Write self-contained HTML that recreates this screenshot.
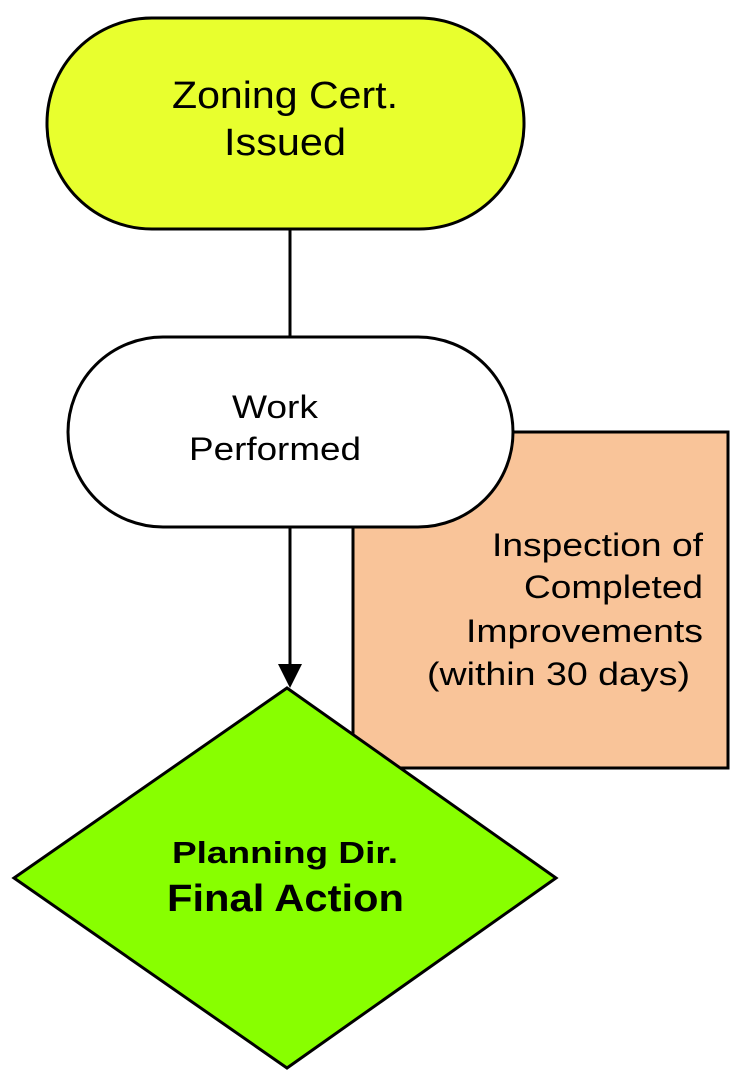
<!DOCTYPE html>
<html><head><meta charset="utf-8"><style>html,body{margin:0;padding:0;background:#fff}svg{display:block}</style></head>
<body>
<svg width="741" height="1079" viewBox="0 0 741 1079" xmlns="http://www.w3.org/2000/svg" font-family="Liberation Sans, Arial, sans-serif">
<rect x="353" y="432" width="375" height="336" fill="#f9c499" stroke="#000" stroke-width="3"/>
<line x1="290" y1="229" x2="290" y2="337" stroke="#000" stroke-width="3"/>
<rect x="47" y="18" width="477" height="211" rx="105" ry="105" fill="#e8ff2e" stroke="#000" stroke-width="3"/>
<text x="172" y="108" font-size="38" textLength="226" lengthAdjust="spacingAndGlyphs">Zoning Cert.</text>
<text x="224" y="155" font-size="38" textLength="122" lengthAdjust="spacingAndGlyphs">Issued</text>
<line x1="290" y1="527" x2="290" y2="666" stroke="#000" stroke-width="3"/>
<polygon points="278,664 302,664 290,688" fill="#000"/>
<rect x="68" y="337" width="445" height="190" rx="95" ry="95" fill="#fff" stroke="#000" stroke-width="3"/>
<text x="232" y="418" font-size="32" textLength="86" lengthAdjust="spacingAndGlyphs">Work</text>
<text x="189" y="460" font-size="32" textLength="172" lengthAdjust="spacingAndGlyphs">Performed</text>
<text x="492" y="556" font-size="32" textLength="211" lengthAdjust="spacingAndGlyphs">Inspection of</text>
<text x="524" y="598" font-size="32" textLength="179" lengthAdjust="spacingAndGlyphs">Completed</text>
<text x="466" y="642" font-size="32" textLength="237" lengthAdjust="spacingAndGlyphs">Improvements</text>
<text x="427" y="685" font-size="32" textLength="263" lengthAdjust="spacingAndGlyphs">(within 30 days)</text>
<polygon points="287,688 556,878 287,1068 14,878" fill="#88ff00" stroke="#000" stroke-width="3"/>
<text x="172" y="863" font-size="31" font-weight="bold" textLength="226" lengthAdjust="spacingAndGlyphs">Planning Dir.</text>
<text x="167" y="911" font-size="38" font-weight="bold" textLength="237" lengthAdjust="spacingAndGlyphs">Final Action</text>
</svg>
</body></html>
